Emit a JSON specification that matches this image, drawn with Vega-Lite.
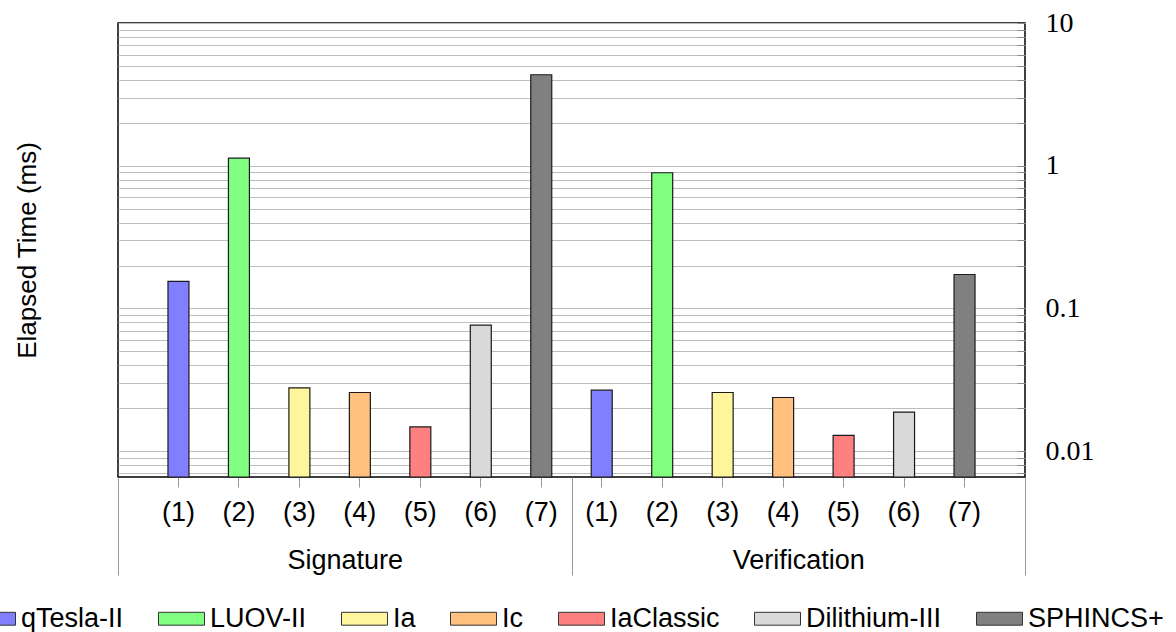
{
  "$schema": "https://vega.github.io/schema/vega-lite/v6.json",
  "width": 907,
  "height": 454,
  "autosize": {"type": "none"},
  "padding": {"left": 118, "top": 23, "right": 151, "bottom": 155},
  "background": "white",
  "config": {"view": {"stroke": "black", "strokeWidth": 1.5}, "font": "Liberation Sans"},
  "data": {"values": [
    {"group": "Signature", "pos": "S1", "scheme": "qTesla-II", "value": 0.155},
    {"group": "Signature", "pos": "S2", "scheme": "LUOV-II", "value": 1.13},
    {"group": "Signature", "pos": "S3", "scheme": "Ia", "value": 0.0278},
    {"group": "Signature", "pos": "S4", "scheme": "Ic", "value": 0.0258},
    {"group": "Signature", "pos": "S5", "scheme": "IaClassic", "value": 0.0148},
    {"group": "Signature", "pos": "S6", "scheme": "Dilithium-III", "value": 0.0764},
    {"group": "Signature", "pos": "S7", "scheme": "SPHINCS+", "value": 4.34},
    {"group": "Verification", "pos": "V1", "scheme": "qTesla-II", "value": 0.0268},
    {"group": "Verification", "pos": "V2", "scheme": "LUOV-II", "value": 0.893},
    {"group": "Verification", "pos": "V3", "scheme": "Ia", "value": 0.0258},
    {"group": "Verification", "pos": "V4", "scheme": "Ic", "value": 0.0238},
    {"group": "Verification", "pos": "V5", "scheme": "IaClassic", "value": 0.0129},
    {"group": "Verification", "pos": "V6", "scheme": "Dilithium-III", "value": 0.0188},
    {"group": "Verification", "pos": "V7", "scheme": "SPHINCS+", "value": 0.173}
  ]},
  "layer": [
    {
      "mark": {"type": "bar", "stroke": "#1a1a1a", "strokeWidth": 1.2},
      "encoding": {
        "x": {
          "field": "pos", "type": "nominal",
          "scale": {"type": "band", "paddingInner": 0.653, "paddingOuter": 0.8265},
          "axis": {"orient": "bottom", "title": null,
            "labelExpr": "'(' + substring(datum.value, 1) + ')'",
            "labelFontSize": 27, "labelFont": "Liberation Sans", "labelColor": "black",
            "labelAngle": 0, "labelPadding": 12, "tickSize": 10, "tickColor": "#999",
            "domain": false, "grid": false}
        },
        "y": {
          "field": "value", "type": "quantitative", "stack": null,
          "scale": {"type": "log", "domain": [0.0066, 10], "nice": false},
          "axis": {"orient": "right", "title": null,
            "values": [0.007,0.008,0.009,0.01,0.02,0.03,0.04,0.05,0.06,0.07,0.08,0.09,0.1,0.2,0.3,0.4,0.5,0.6,0.7,0.8,0.9,1,2,3,4,5,6,7,8,9,10],
            "labelExpr": "datum.value == 0.01 || datum.value == 0.1 || datum.value == 1 || datum.value == 10 ? format(datum.value, '~g') : ''",
            "grid": true, "gridColor": "#BDBDBD", "gridWidth": 1,
            "tickSize": -8, "tickColor": "#888",
            "labelFont": "Liberation Serif", "labelFontSize": 28, "labelColor": "black",
            "labelPadding": 28, "labelAlign": "left", "labelBaseline": "middle",
            "labelOverlap": false, "labelFlush": false, "domain": false}
        },
        "fill": {
          "field": "scheme", "type": "nominal",
          "scale": {
            "domain": ["qTesla-II", "LUOV-II", "Ia", "Ic", "IaClassic", "Dilithium-III", "SPHINCS+"],
            "range": ["#8080FF", "#80FF80", "#FFF59D", "#FFC080", "#FF8080", "#D9D9D9", "#808080"]
          },
          "legend": {"orient": "none", "legendX": -149, "legendY": 572,
            "direction": "horizontal", "columns": 7, "title": null,
            "labelFontSize": 27, "labelFont": "Liberation Sans", "labelColor": "black",
            "symbolType": "M-1,-0.28L1,-0.28L1,0.28L-1,0.28Z", "symbolSize": 2116,
            "symbolStrokeColor": "#333", "symbolStrokeWidth": 1, "symbolOpacity": 1,
            "columnPadding": 32, "labelOffset": 5, "labelLimit": 300}
        }
      }
    },
    {
      "mark": {"type": "point", "opacity": 0},
      "encoding": {
        "x": {
          "field": "group", "type": "nominal",
          "scale": {"type": "band", "paddingInner": 0, "paddingOuter": 0},
          "axis": {"orient": "bottom", "title": null, "labelFontSize": 27,
            "labelFont": "Liberation Sans", "labelColor": "black", "labelAngle": 0,
            "tickBand": "extent", "tickSize": 98, "tickColor": "#999",
            "domain": false, "grid": false, "labelPadding": -7, "labelBaseline": "alphabetic"}
        },
        "y": {
          "field": "value", "type": "quantitative", "stack": null,
          "scale": {"type": "log", "domain": [0.0066, 10], "nice": false},
          "axis": {"orient": "left", "title": "Elapsed Time (ms)", "labels": false,
            "ticks": false, "domain": false, "grid": false,
            "titleFontSize": 26, "titleFontWeight": "normal", "titleFont": "Liberation Sans",
            "titleColor": "black", "titlePadding": 83, "titleBaseline": "alphabetic"}
        }
      }
    }
  ],
  "resolve": {"scale": {"x": "independent"}, "axis": {"x": "independent", "y": "independent"}}
}
